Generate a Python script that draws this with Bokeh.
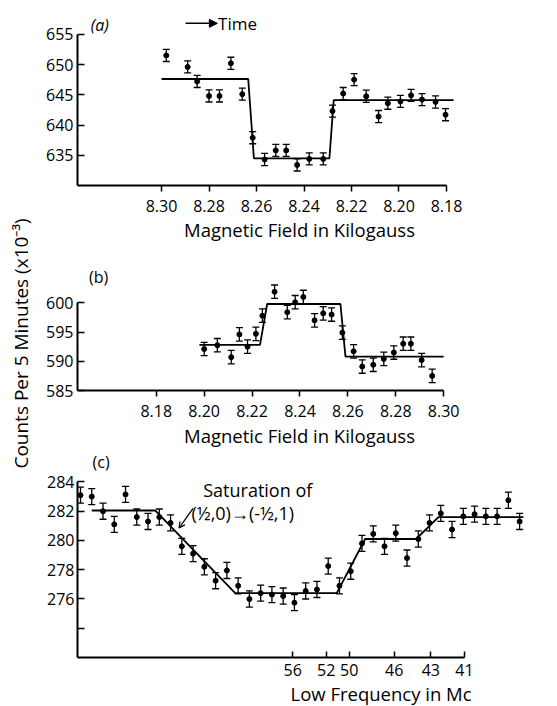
import numpy as np
from bokeh.plotting import figure
from bokeh.layouts import row, column
from bokeh.models import (Range1d, FixedTicker, ColumnDataSource, Whisker, TeeHead,
                          Label, Arrow, NormalHead, OpenHead, Title)
from bokeh.embed import file_html
from bokeh.resources import INLINE

FONT = "Open Sans"

# ---------------- data ----------------
# (a) magnetic field sweep (decreasing field = increasing time)
a_field = [8.298, 8.289, 8.285, 8.280, 8.2756, 8.2708, 8.266, 8.2616, 8.2566, 8.2519,
           8.2475, 8.2429, 8.2378, 8.2319, 8.228, 8.2235, 8.2189, 8.2138, 8.2086, 8.2047,
           8.1994, 8.1949, 8.1903, 8.1846, 8.1804]
a_counts = [651.5, 649.6, 647.2, 644.8, 644.8, 650.2, 645.1, 637.9, 634.3, 635.8,
            635.8, 633.4, 634.4, 634.4, 642.3, 645.2, 647.5, 644.75, 641.4, 643.6,
            643.9, 644.9, 644.2, 643.8, 641.7]
a_err = 1.0
a_fit_x = [8.30, 8.2635, 8.2611, 8.2293, 8.2275, 8.177]
a_fit_y = [647.6, 647.6, 634.5, 634.5, 644.1, 644.1]
a_xticks = [8.30, 8.28, 8.26, 8.24, 8.22, 8.20, 8.18]
a_xlabels = ["8.30", "8.28", "8.26", "8.24", "8.22", "8.20", "8.18"]
a_yticks = [635, 640, 645, 650, 655]

# (b)
b_field = [8.2000, 8.2055, 8.2113, 8.2147, 8.2181, 8.2216, 8.2243, 8.2294, 8.2347, 8.2380,
           8.2414, 8.2461, 8.2497, 8.2532, 8.2577, 8.2624, 8.2660, 8.2706, 8.2750, 8.2792,
           8.2831, 8.2863, 8.2908, 8.2952]
b_counts = [592.1, 592.75, 590.7, 594.6, 592.5, 594.7, 597.8, 601.9, 598.4, 600.1,
            601.0, 597.0, 598.2, 598.0, 594.9, 591.7, 589.1, 589.4, 590.4, 591.5,
            593.0, 593.0, 590.2, 587.5]
b_err = 1.15
b_fit_x = [8.198, 8.2233, 8.2263, 8.2569, 8.259, 8.30]
b_fit_y = [592.8, 592.8, 599.8, 599.8, 590.8, 590.8]
b_xticks = [8.18, 8.20, 8.22, 8.24, 8.26, 8.28, 8.30]
b_xlabels = ["8.18", "8.20", "8.22", "8.24", "8.26", "8.28", "8.30"]
b_yticks = [585, 590, 595, 600]

# (c) low-frequency sweep, points by step
c_step = list(range(40))
c_counts = [283.1, 283.0, 282.0, 281.1, 283.15, 281.6, 281.3, 281.6, 281.2, 279.6,
            279.1, 278.2, 277.25, 277.95, 276.9, 276.0, 276.4, 276.3, 276.2, 275.75,
            276.55, 276.65, 278.25, 276.9, 277.9, 279.8, 280.45, 279.6, 280.5, 278.8,
            280.1, 281.2, 281.85, 280.75, 281.65, 281.8, 281.65, 281.65, 282.75, 281.3]
c_err = 0.55
c_fit_x = [1.0, 6.63, 13.74, 22.76, 25.28, 29.81, 31.79, 39.34]
c_fit_y = [282.05, 282.05, 276.4, 276.4, 280.1, 280.1, 281.6, 281.6]
c_xticks = [18.85, 21.82, 23.86, 27.86, 31.11, 34.1]
c_xlabels = ["56", "52", "50", "46", "43", "41"]
c_yticks = [274, 276, 278, 280, 282, 284]
c_ylabels = ["", "276", "278", "280", "282", "284"]


def base_fig(width, height, xr, yr, mbl, mbr, mbt, mbb):
    p = figure(width=width, height=height, x_range=xr, y_range=yr,
               output_backend="svg", toolbar_location=None,
               min_border_left=mbl, min_border_right=mbr,
               min_border_top=mbt, min_border_bottom=mbb)
    p.grid.visible = False
    p.outline_line_color = None
    p.background_fill_color = "white"
    p.border_fill_color = "white"
    for ax in (p.xaxis[0], p.yaxis[0]):
        ax.axis_line_width = 2
        ax.axis_line_color = "black"
        ax.major_tick_line_width = 1.5
        ax.major_tick_line_color = "black"
        ax.minor_tick_line_color = None
        ax.major_label_text_font = FONT
        ax.major_label_text_font_size = "16px"
        ax.major_label_text_color = "black"
        ax.axis_label_text_font = FONT
        ax.axis_label_text_font_style = "normal"
        ax.axis_label_text_font_size = "18.5px"
        ax.axis_label_text_color = "black"
    p.yaxis.major_tick_in = 7
    p.yaxis.major_tick_out = 0
    p.yaxis.major_label_standoff = 4
    return p


def add_data(p, xs, ys, err, fx, fy):
    src = ColumnDataSource(dict(x=xs, y=ys,
                                lo=[v - err for v in ys], hi=[v + err for v in ys]))
    p.add_layout(Whisker(source=src, base="x", lower="lo", upper="hi",
                         line_width=1.3, line_color="black",
                         lower_head=TeeHead(size=7, line_width=1.3, line_color="black"),
                         upper_head=TeeHead(size=7, line_width=1.3, line_color="black")))
    p.scatter("x", "y", source=src, size=5, marker="circle", color="black")
    p.line(fx, fy, line_width=1.8, color="black")


def txt(x, y, s, size="16px", align="center", style="normal"):
    return Label(x=x, y=y, text=s, text_font=FONT, text_font_size=size,
                 text_font_style=style, text_align=align, text_baseline="middle",
                 text_color="black")


# ---------------- panel (a) ----------------
pa = base_fig(519, 250, Range1d(8.3354, 8.1484), Range1d(630, 658.1), 39, 36, 15, 65)
pa.xaxis.ticker = FixedTicker(ticks=a_xticks)
pa.xaxis.major_label_overrides = {t: l for t, l in zip(a_xticks, a_xlabels)}
pa.xaxis.major_tick_in = 0
pa.xaxis.major_tick_out = 6
pa.xaxis.major_label_standoff = 8
pa.xaxis.axis_label = "Magnetic Field in Kilogauss"
pa.xaxis.axis_label_standoff = 2
pa.xaxis.bounds = (min(a_xticks), 8.3354)
pa.yaxis.ticker = FixedTicker(ticks=a_yticks)
pa.yaxis.bounds = (630, max(a_yticks))
add_data(pa, a_field, a_counts, a_err, a_fit_x, a_fit_y)
pa.add_layout(txt(8.326, 656.45, "(a)", style="italic"))
pa.add_layout(Arrow(x_start=8.2899, y_start=656.8, x_end=8.2765, y_end=656.8, line_width=1.5,
                    end=NormalHead(size=8, fill_color="black", line_color="black")))
pa.add_layout(txt(8.2762, 656.8, "Time", size="17px", align="left"))

# ---------------- panel (b) ----------------
pb = base_fig(519, 200, Range1d(8.1471, 8.3325), Range1d(585, 606.9), 39, 36, 12, 59)
pb.xaxis.ticker = FixedTicker(ticks=b_xticks)
pb.xaxis.major_label_overrides = {t: l for t, l in zip(b_xticks, b_xlabels)}
pb.xaxis.major_tick_in = 0
pb.xaxis.major_tick_out = 6
pb.xaxis.major_label_standoff = 8
pb.xaxis.axis_label = "Magnetic Field in Kilogauss"
pb.xaxis.axis_label_standoff = 3
pb.xaxis.bounds = (8.1471, max(b_xticks))
pb.yaxis.ticker = FixedTicker(ticks=b_yticks)
pb.yaxis.bounds = (min(b_yticks), max(b_yticks))
add_data(pb, b_field, b_counts, b_err, b_fit_x, b_fit_y)
pb.add_layout(txt(8.1559, 604.35, "(b)"))

# ---------------- panel (c) ----------------
pc = base_fig(519, 256, Range1d(-0.266, 40.41), Range1d(272, 284.51), 39, 22, 24, 49)
pc.frame_align = False
pc.xaxis.ticker = FixedTicker(ticks=c_xticks)
pc.xaxis.major_label_overrides = {t: l for t, l in zip(c_xticks, c_xlabels)}
pc.xaxis.major_tick_in = 6
pc.xaxis.major_tick_out = 0
pc.xaxis.major_label_standoff = 6
pc.xaxis.bounds = (-0.266, max(c_xticks))
pc.yaxis.ticker = FixedTicker(ticks=c_yticks)
pc.yaxis.major_label_overrides = {t: l for t, l in zip(c_yticks, c_ylabels)}
pc.yaxis.bounds = (272, max(c_yticks))
pc.yaxis.major_label_standoff = 3
add_data(pc, c_step, c_counts, c_err, c_fit_x, c_fit_y)
pc.add_layout(Title(text="(c)", align="left", offset=15, standoff=0, vertical_align="top",
                    text_font=FONT, text_font_size="16px", text_font_style="normal",
                    text_color="black"), "above")
pc.add_layout(txt(10.9, 283.43, "Saturation of", size="18px", align="left"))
pc.add_layout(txt(9.86, 281.86, "(½,0)→(-½,1)", size="18px", align="left"))
pc.add_layout(Arrow(x_start=10.0, y_start=282.2, x_end=8.75, y_end=280.85, line_width=1.2,
                    end=OpenHead(size=6, line_width=1.2)))
pc.add_layout(Title(text="Low Frequency in Mc", align="left", offset=213, standoff=0,
                    text_font=FONT, text_font_size="18.5px", text_font_style="normal",
                    text_color="black"), "below")

# ---------------- shared y label ----------------
pl = figure(width=38, height=706, x_range=Range1d(0, 38), y_range=Range1d(0, 706),
            output_backend="svg", toolbar_location=None, min_border=0)
pl.axis.visible = False
pl.grid.visible = False
pl.outline_line_color = None
pl.add_layout(Label(x=20, y=363, text="Counts Per 5 Minutes (x10⁻³)", angle=np.pi / 2,
                    text_font=FONT, text_font_size="19px", text_align="center",
                    text_baseline="middle", text_color="black"))

layout = row(pl, column(pa, pb, pc))
open("out.html", "w").write(file_html(layout, INLINE))
